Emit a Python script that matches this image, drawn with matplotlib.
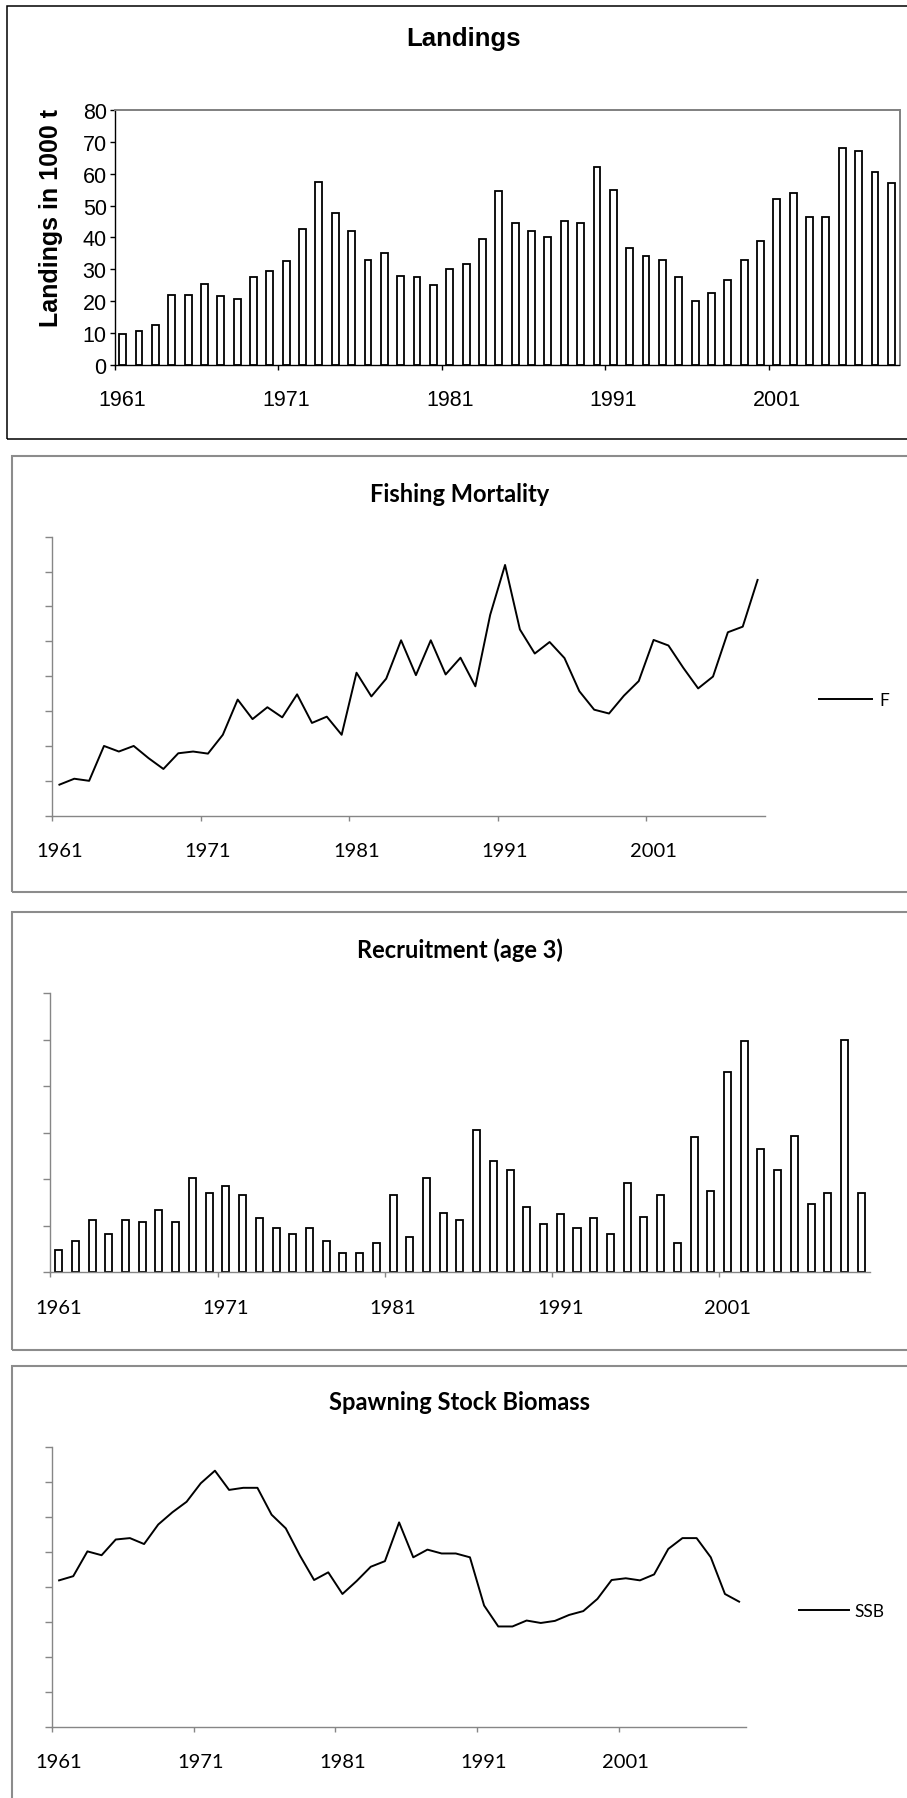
import matplotlib
matplotlib.use("Agg")
import matplotlib.pyplot as plt
from matplotlib.patches import Rectangle

# figure size in pixels (dpi 100)
W, H = 907, 1799

tick_years = [1961, 1971, 1981, 1991, 2001]

years_landings = list(range(1961, 2009))
landings = [9.5, 10.5, 12.5, 22, 22, 25.5, 21.5, 20.5, 27.5, 29.5,
            32.5, 42.5, 57.5, 47.5, 42, 33, 35, 28, 27.5, 25,
            30, 31.5, 39.5, 54.5, 44.5, 42, 40, 45, 44.5, 62,
            55, 36.5, 34, 33, 27.5, 20, 22.5, 26.5, 33, 39,
            52, 54, 46.5, 46.5, 68, 67, 60.5, 57]

years_f = list(range(1961, 2009))
fishing_mortality = [0.089, 0.106, 0.100, 0.200, 0.184, 0.200, 0.165, 0.134, 0.179, 0.184,
                     0.178, 0.232, 0.333, 0.277, 0.311, 0.282, 0.348, 0.266, 0.284, 0.232,
                     0.410, 0.342, 0.393, 0.503, 0.403, 0.503, 0.405, 0.453, 0.371, 0.576,
                     0.719, 0.534, 0.465, 0.498, 0.452, 0.357, 0.304, 0.293, 0.344, 0.386,
                     0.504, 0.488, 0.424, 0.365, 0.399, 0.526, 0.542, 0.676]

years_rec = list(range(1961, 2010))
recruitment = [0.47, 0.67, 1.12, 0.83, 1.12, 1.08, 1.33, 1.08, 2.03, 1.70,
               1.86, 1.66, 1.16, 0.95, 0.83, 0.95, 0.67, 0.42, 0.42, 0.62,
               1.66, 0.75, 2.03, 1.28, 1.12, 3.07, 2.40, 2.19, 1.41, 1.04,
               1.25, 0.95, 1.16, 0.83, 1.91, 1.20, 1.66, 0.62, 2.90, 1.74,
               4.31, 4.97, 2.65, 2.19, 2.94, 1.46, 1.70, 5.00, 1.70]

years_ssb = list(range(1961, 2010))
ssb = [4.19, 4.31, 5.02, 4.91, 5.36, 5.40, 5.23, 5.79, 6.14, 6.44,
       6.97, 7.33, 6.78, 6.84, 6.84, 6.07, 5.68, 4.90, 4.20, 4.42,
       3.80, 4.17, 4.58, 4.74, 5.85, 4.85, 5.07, 4.96, 4.96, 4.85,
       3.47, 2.87, 2.87, 3.04, 2.97, 3.03, 3.20, 3.31, 3.66, 4.20,
       4.25, 4.19, 4.36, 5.09, 5.40, 5.40, 4.85, 3.80, 3.58]

ARIAL = "Liberation Sans"
CALIBRI = "Lato"
GREY = "#868686"
FRAME_GREY = "#8c8c8c"

fig = plt.figure(figsize=(W / 100, H / 100), dpi=100)


def px_axes(left, top, right, bottom):
    return fig.add_axes([left / W, 1 - bottom / H, (right - left) / W, (bottom - top) / H])


def px_frame(left, top, right, bottom, color, lw):
    fig.patches.append(Rectangle((left / W, 1 - bottom / H), (right - left) / W,
                                 (bottom - top) / H, transform=fig.transFigure,
                                 fill=False, edgecolor=color, linewidth=lw, zorder=0))


def px_text(x, y, s, **kw):
    fig.text(x / W, 1 - y / H, s, ha="center", va="center", **kw)


def category_xaxis(ax, years, family, size, pad, tick_color):
    # Excel-style category axis: marks between categories, labels on categories
    n = len(years)
    ax.set_xlim(-0.5, n - 0.5)
    idx = [years.index(y) for y in tick_years]
    ax.set_xticks([i - 0.5 for i in idx])
    ax.set_xticklabels([])
    ax.set_xticks(idx, minor=True)
    ax.set_xticklabels([str(y) for y in tick_years], minor=True,
                       family=family, fontsize=size, va="center")
    ax.tick_params(axis="x", which="major", direction="out", length=3.6,
                   width=1, color=tick_color)
    ax.tick_params(axis="x", which="minor", length=0, pad=pad)


# ---- Landings ------------------------------------------------------------
px_frame(7, 7, 912, 440, "black", 1.1)
px_text(463, 39, "Landings", family=ARIAL, fontsize=18.5, fontweight="bold")
ax1 = px_axes(114.5, 111, 899.5, 365.7)
ax1.bar(range(len(landings)), landings, width=0.42, color="white",
        edgecolor="black", linewidth=1.3)
ax1.set_ylim(0, 80)
ax1.set_yticks(range(0, 81, 10))
ax1.set_yticklabels([str(v) for v in range(0, 81, 10)], family=ARIAL, fontsize=15.5)
ax1.tick_params(axis="y", direction="out", length=3.6, width=1, pad=2)
category_xaxis(ax1, years_landings, ARIAL, 15.5, 25, "black")
for side in ("top", "right"):
    ax1.spines[side].set_color("#808080")
    ax1.spines[side].set_linewidth(1.4)
for side in ("left", "bottom"):
    ax1.spines[side].set_color("black")
    ax1.spines[side].set_linewidth(1.0)
ax1.set_ylabel("Landings in 1000 t", family=ARIAL, fontsize=18,
               fontweight="bold", va="center", ha="center")
ax1.yaxis.set_label_coords((51 - 114.5) / (899.5 - 114.5), 0.58)


def excel_axes(ax, years, ymax, ystep):
    ax.set_ylim(0, ymax)
    nt = int(round(ymax / ystep))
    ax.set_yticks([i * ystep for i in range(nt + 1)])
    ax.set_yticklabels([])
    ax.tick_params(axis="y", direction="out", length=5, width=1, color=GREY)
    for side in ("top", "right"):
        ax.spines[side].set_visible(False)
    for side in ("left", "bottom"):
        ax.spines[side].set_color(GREY)
        ax.spines[side].set_linewidth(1.0)


# ---- Fishing Mortality ---------------------------------------------------
px_frame(11.7, 456.7, 912, 893.3, FRAME_GREY, 1.5)
px_text(460, 494, "Fishing Mortality", family=CALIBRI, fontsize=17, fontweight="bold")
ax2 = px_axes(52, 537.7, 765, 816.7)
ax2.plot(range(len(fishing_mortality)), fishing_mortality, color="black",
         linewidth=1.4, label="F")
excel_axes(ax2, years_f, 0.8, 0.1)
category_xaxis(ax2, years_f, CALIBRI, 14.5, 25, GREY)
ax2.legend(loc="center left", bbox_to_anchor=(819 / W, 1 - 701 / H),
           bbox_transform=fig.transFigure, frameon=False, borderpad=0,
           borderaxespad=0, handlelength=3.05, handletextpad=0.4,
           prop={"family": CALIBRI, "size": 12.5})

# ---- Recruitment ---------------------------------------------------------
px_frame(11.7, 913.3, 912, 1350.7, FRAME_GREY, 1.5)
px_text(460, 950, "Recruitment (age 3)", family=CALIBRI, fontsize=17, fontweight="bold")
ax3 = px_axes(50.3, 994.3, 869.6, 1273.3)
ax3.bar(range(len(recruitment)), recruitment, width=0.42, color="white",
        edgecolor="black", linewidth=1.3)
excel_axes(ax3, years_rec, 6, 1)
category_xaxis(ax3, years_rec, CALIBRI, 14.5, 25, GREY)

# ---- Spawning Stock Biomass ----------------------------------------------
px_frame(11.7, 1366.7, 912, 1830, FRAME_GREY, 1.5)
px_text(460, 1403, "Spawning Stock Biomass", family=CALIBRI, fontsize=17, fontweight="bold")
ax4 = px_axes(52, 1448.3, 746.2, 1727.7)
ax4.plot(range(len(ssb)), ssb, color="black", linewidth=1.4, label="SSB")
excel_axes(ax4, years_ssb, 8, 1)
category_xaxis(ax4, years_ssb, CALIBRI, 14.5, 25, GREY)
ax4.legend(loc="center left", bbox_to_anchor=(799 / W, 1 - 1611.7 / H),
           bbox_transform=fig.transFigure, frameon=False, borderpad=0,
           borderaxespad=0, handlelength=2.9, handletextpad=0.3,
           prop={"family": CALIBRI, "size": 12.5})

fig.savefig("out.png", dpi=100)
